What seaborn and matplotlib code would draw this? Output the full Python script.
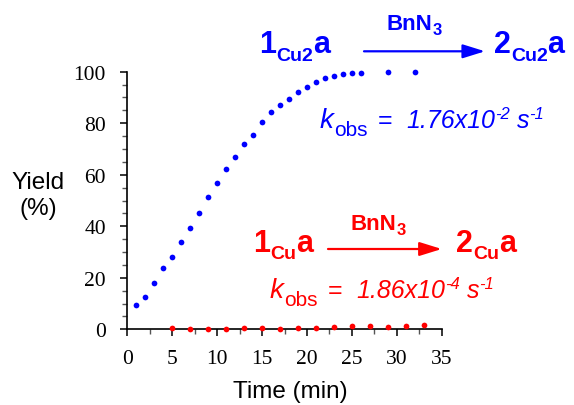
import numpy as np
import pandas as pd
import matplotlib
matplotlib.use("Agg")
import matplotlib.pyplot as plt
import seaborn as sns
from matplotlib.ticker import MultipleLocator

# ---- data ----
time_cu2 = [1, 2, 3, 4, 5, 6, 7, 8, 9, 10, 11, 12, 13, 14, 15, 16, 17, 18, 19,
            20, 21, 22, 23, 24, 25, 26, 29, 32]
yield_cu2 = [9.4, 12.4, 18.0, 23.8, 28.1, 33.9, 39.5, 45.1, 51.5, 56.9, 62.3,
             67.0, 71.8, 75.5, 80.5, 84.5, 86.9, 89.4, 92.1, 94.0, 96.0, 97.4,
             98.4, 99.2, 99.5, 99.6, 99.8, 99.8]
time_cu = [5, 7, 9, 11, 13, 15, 17, 19, 21, 23, 25, 27, 29, 31, 33]
yield_cu = [0.5, 0.3, 0.3, 0.3, 0.4, 0.6, 0.3, 0.6, 0.6, 0.9, 1.4, 1.4, 1.0,
            1.3, 1.7]
x_ticks = [0, 5, 10, 15, 20, 25, 30, 35]
y_ticks = [0, 20, 40, 60, 80, 100]

BLUE = "#0000FF"
RED = "#FF0000"

sns.set_style("ticks")
plt.rcParams["font.family"] = ["Liberation Sans", "DejaVu Sans"]
plt.rcParams["text.color"] = "black"
plt.rcParams["xtick.color"] = "black"
plt.rcParams["ytick.color"] = "black"
plt.rcParams["axes.edgecolor"] = "black"

W, H = 574, 406
fig = plt.figure(figsize=(W / 100, H / 100), dpi=100)
ax = fig.add_axes([127.3 / W, (H - 330.3) / H, (441.7 - 127.3) / W, (330.3 - 72.7) / H])

df1 = pd.DataFrame({"t": time_cu2, "y": yield_cu2})
df2 = pd.DataFrame({"t": time_cu, "y": yield_cu})
sns.scatterplot(data=df1, x="t", y="y", color=BLUE, s=17, linewidth=0, ax=ax, clip_on=False, zorder=3)
sns.scatterplot(data=df2, x="t", y="y", color=RED, s=17, linewidth=0, ax=ax, clip_on=False, zorder=3)

ax.set_xlim(0, 35)
ax.set_ylim(0, 100)
ax.set_xticks(x_ticks)
ax.set_yticks(y_ticks)
ax.set_xticklabels([str(v) for v in x_ticks])
ax.set_yticklabels([str(v) for v in y_ticks])
ax.xaxis.set_minor_locator(MultipleLocator(2.5))
ax.yaxis.set_minor_locator(MultipleLocator(5))
for s in ["top", "right"]:
    ax.spines[s].set_visible(False)
for s in ["left", "bottom"]:
    ax.spines[s].set_linewidth(1.2)
    ax.spines[s].set_color("black")
ax.tick_params(which="major", direction="out", length=5, width=1.1, color="black")
ax.tick_params(which="minor", direction="out", length=3.6, width=1.0, color="#555555")
ax.tick_params(axis="x", which="major", pad=9)
ax.tick_params(axis="y", which="major", pad=10.5)
for lab in ax.get_xticklabels() + ax.get_yticklabels():
    lab.set_fontfamily("Liberation Serif")
    lab.set_fontsize(15.5)
    lab.set_color("black")
ax.set_xlabel("")
ax.set_ylabel("")

fig.text(290.5 / W, 1 - 392 / H, "Time (min)", ha="center", va="center", fontsize=17.5)
fig.text(38 / W, 1 - 196 / H, "Yield\n(%)", ha="center", va="center", fontsize=17.5,
         multialignment="center", linespacing=1.2)

renderer = fig.canvas.get_renderer()


def rich(x0, base, segs, color):
    """segs: (text, size, weight, style, dy_px (+down), gap_after_px)"""
    x = x0
    for txt, size, weight, style, dy, gap in segs:
        t = fig.text(x / W, 1 - (base + dy) / H, txt, ha="left", va="baseline",
                     fontsize=size, fontweight=weight, fontstyle=style, color=color)
        bb = t.get_window_extent(renderer=renderer)
        x += bb.width + gap


def arrow(x1, x2, y, color):
    ax.annotate("", xy=(x2, H - y), xycoords="figure pixels",
                xytext=(x1, H - y), textcoords="figure pixels",
                arrowprops=dict(arrowstyle="-|>,head_length=0.9,head_width=0.28",
                                mutation_scale=15, color=color, lw=1.6,
                                shrinkA=0, shrinkB=0))


# Blue scheme
rich(259, 53.3, [("1", 22, "bold", "normal", 0, 0),
                 ("Cu2", 14, "bold", "normal", 8, 0),
                 ("a", 22, "bold", "normal", 0, 0)], BLUE)
rich(387, 30, [("BnN", 16, "bold", "normal", 0, 0),
               ("3", 12, "bold", "normal", 5, 0)], BLUE)
arrow(364, 485, 52.3, BLUE)
rich(494, 53.3, [("2", 22, "bold", "normal", 0, 0),
                 ("Cu2", 14, "bold", "normal", 8, 0),
                 ("a", 22, "bold", "normal", 0, 0)], BLUE)
rich(320, 128, [("k", 20, "normal", "italic", 0, 0),
                ("obs", 15, "normal", "normal", 8, 10),
                ("=", 18, "normal", "normal", 0, 14),
                ("1.76x10", 18, "normal", "italic", 0, 0),
                ("-2", 12, "normal", "italic", -9, 7),
                ("s", 18, "normal", "italic", 0, 0),
                ("-1", 12, "normal", "italic", -9, 0)], BLUE)

# Red scheme
rich(253, 251.7, [("1", 22, "bold", "normal", 0, 0),
                  ("Cu", 14, "bold", "normal", 7, 0),
                  ("a", 22, "bold", "normal", 0, 0)], RED)
rich(351, 230, [("BnN", 16, "bold", "normal", 0, 0),
                ("3", 12, "bold", "normal", 5, 0)], RED)
arrow(328, 441.7, 250, RED)
rich(456, 251.7, [("2", 22, "bold", "normal", 0, 0),
                  ("Cu", 14, "bold", "normal", 7, 0),
                  ("a", 22, "bold", "normal", 0, 0)], RED)
rich(270, 298, [("k", 20, "normal", "italic", 0, 0),
                ("obs", 15, "normal", "normal", 8, 10),
                ("=", 18, "normal", "normal", 0, 14),
                ("1.86x10", 18, "normal", "italic", 0, 0),
                ("-4", 12, "normal", "italic", -9, 7),
                ("s", 18, "normal", "italic", 0, 0),
                ("-1", 12, "normal", "italic", -9, 0)], RED)

fig.savefig("out.png", dpi=100)
